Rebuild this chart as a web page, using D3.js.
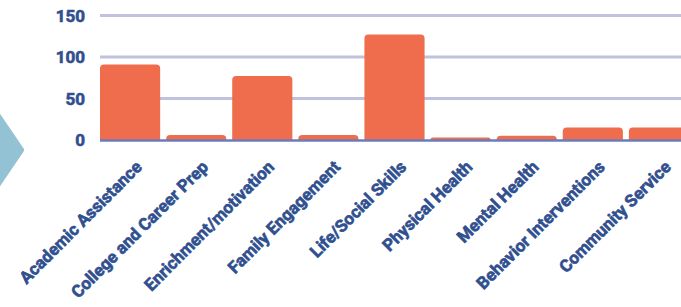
<!DOCTYPE html>
<html>
<head>
  <meta charset="utf-8">
  <title>Program activities</title>
  <style>
    body { margin: 0; background: #ffffff; }
    svg { display: block; }
    .tick-label { font-family: Roboto, "Liberation Sans", sans-serif; font-weight: bold; fill: #2F4F8F; stroke: #2F4F8F; stroke-width: 0.6px; }
  </style>
</head>
<body>
  <svg width="681" height="307"></svg>
  <script src="https://d3js.org/d3.v7.min.js"></script>
  <script>
  // data
  var categories = [
    "Academic Assistance", "College and Career Prep", "Enrichment/motivation",
    "Family Engagement", "Life/Social Skills", "Physical Health",
    "Mental Health", "Behavior Interventions", "Community Service"
  ];
  var counts = [91, 6, 77, 6, 127, 3, 5, 15, 15];
  var yTicks = [0, 50, 100, 150];

  var svg = d3.select("svg");
  var W = 681;

  var x = d3.scaleBand()
    .domain(categories)
    .range([100, 689])
    .paddingInner(0.09)
    .paddingOuter(0);

  var y = d3.scaleLinear()
    .domain([0, 150])
    .range([140, 15.5]);

  // decorative arrow shape on the left
  svg.append("path")
    .attr("d", "M-40,60 L21,150 L-40,240 Z")
    .attr("fill", "#93C2D4")
    .attr("stroke", "#93C2D4")
    .attr("stroke-width", 6)
    .attr("stroke-linejoin", "round");

  // gridlines
  svg.selectAll("line.grid")
    .data(yTicks.filter(function(d) { return d > 0; }))
    .enter()
    .append("line")
    .attr("class", "grid")
    .attr("x1", 100)
    .attr("x2", W)
    .attr("y1", function(d) { return y(d); })
    .attr("y2", function(d) { return y(d); })
    .attr("stroke", "#BFC1DD")
    .attr("stroke-width", 3);

  // y tick labels
  svg.selectAll("text.ylab")
    .data(yTicks)
    .enter()
    .append("text")
    .attr("class", "tick-label")
    .attr("x", 85)
    .attr("y", function(d) { return y(d); })
    .attr("dy", "0.36em")
    .attr("text-anchor", "end")
    .style("font-size", "17px")
    .text(function(d) { return d; });

  // bars with rounded tops
  function barPath(d, i) {
    var x0 = x(categories[i]), w = x.bandwidth();
    var top = y(d), base = y(0);
    var r = Math.min(4, (base - top));
    return "M" + x0 + "," + base +
      " L" + x0 + "," + (top + r) +
      " Q" + x0 + "," + top + " " + (x0 + r) + "," + top +
      " L" + (x0 + w - r) + "," + top +
      " Q" + (x0 + w) + "," + top + " " + (x0 + w) + "," + (top + r) +
      " L" + (x0 + w) + "," + base + " Z";
  }

  svg.selectAll("path.bar")
    .data(counts)
    .enter()
    .append("path")
    .attr("class", "bar")
    .attr("d", barPath)
    .attr("fill", "#EF6D4C");

  // baseline
  svg.append("line")
    .attr("x1", 100)
    .attr("x2", W)
    .attr("y1", y(0) + 0.5)
    .attr("y2", y(0) + 0.5)
    .attr("stroke", "#6C7BBE")
    .attr("stroke-width", 2.5);

  // category labels, rotated
  svg.selectAll("text.xlab")
    .data(categories)
    .enter()
    .append("text")
    .attr("class", "tick-label")
    .attr("text-anchor", "end")
    .style("font-size", "17px")
    .attr("transform", function(d) {
      var cx = x(d) + x.bandwidth() / 2 + 13;
      return "translate(" + cx + ",168) rotate(-45)";
    })
    .text(function(d) { return d; });
  </script>
</body>
</html>
